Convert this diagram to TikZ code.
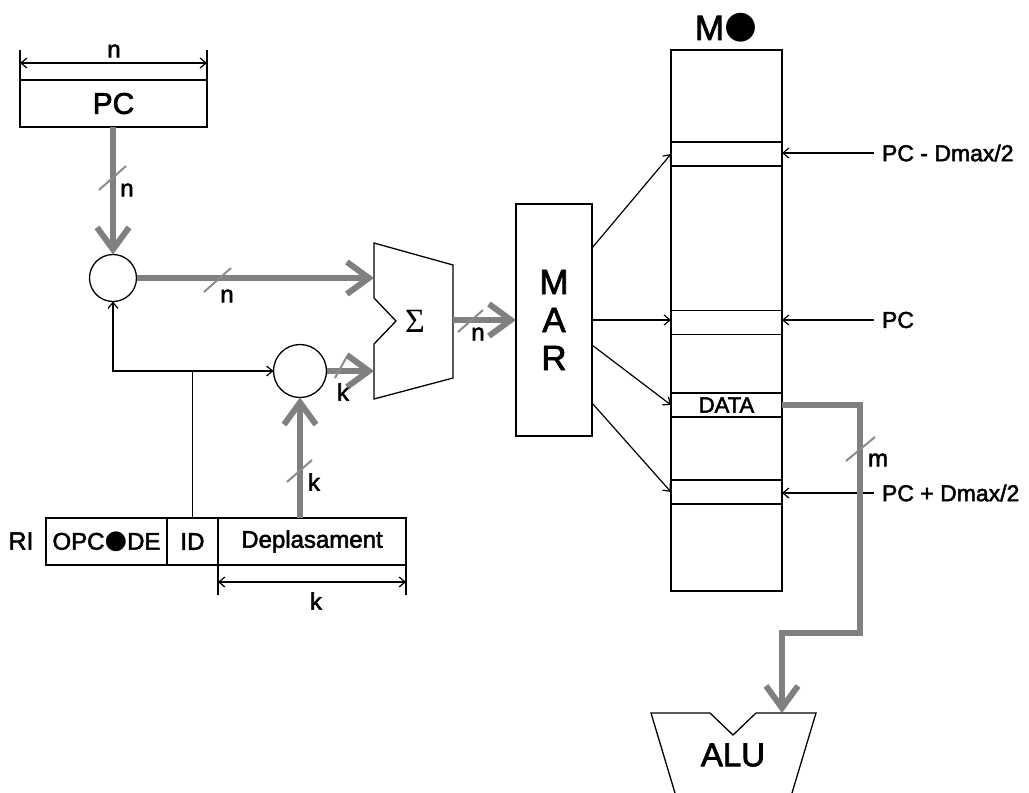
\documentclass[tikz,border=0pt]{standalone}
\usepackage{fontspec}
\setmainfont[RawFeature={embolden=2.2}]{Liberation Sans}
\newfontfamily\djvfont{DejaVu Sans}
\newfontfamily\serffont{Liberation Serif}
\usetikzlibrary{arrows.meta,calc}
\definecolor{busgray}{RGB}{128,128,128}
\definecolor{slashgray}{RGB}{140,140,140}
\newcommand\fs[1]{\fontsize{#1}{#1}\selectfont}
\newcommand\blackdot{\raisebox{0.06em}{\scalebox{1.08}{\djvfont\char"25CF}}}
\begin{document}
\begin{tikzpicture}[x=1pt,y=-1pt,
  every node/.style={inner sep=0pt, outer sep=0pt},
  reg/.style={draw, line width=1.5pt, minimum height=47pt},
  slot/.style={draw, line width=1.3pt, minimum width=111pt, minimum height=24pt},
  bus/.style={draw=busgray, line width=6pt, line join=miter},
  busarrow/.style={bus, -{Straight Barb[length=22pt,width=32pt]}},
  thinline/.style={draw, line width=1.2pt},
  thinarrow/.style={thinline, -{Straight Barb[length=6pt,width=10pt]}},
  dimarrow/.style={thinline, {Straight Barb[length=6pt,width=10pt]}-{Straight Barb[length=6pt,width=10pt]}},
  slash/.style={draw=slashgray, line width=2pt},
  lab/.style={font=\fs{24}},
  addc/.style={circle, draw, line width=1.3pt},
  rlab/.style={font=\fs{23}, anchor=west, inner xsep=8pt},
]
\path[use as bounding box] (0,0) rectangle (1029,793);

% PC register
\node[reg, minimum width=187pt, font=\fs{30}] (pc) at (113.5,103.5) {PC};
\draw[thinline] (pc.north west) -- ++(0,-30);
\draw[thinline] (pc.north east) -- ++(0,-30);
\draw[dimarrow] ([yshift=17pt]pc.north west) -- ([yshift=17pt]pc.north east);
\node[lab] (pcw) at (114,51) {n};

% adders
\node[addc, minimum size=47pt] (c1) at (113,278) {};
\node[addc, minimum size=53pt] (c2) at (300,371) {};

% Sigma adder
\draw[line width=1.3pt] (374,243) -- (453,265) -- (453,378) -- (374,399) -- (374,344) -- (396,321) -- (374,298) -- cycle;
\node[font=\serffont\fs{34}] (sigma) at (415,321) {Σ};
\coordinate (sgIn1) at (374,278);
\coordinate (sgIn2) at (374,371);
\coordinate (sgOut) at (453,320);

% MAR
\node[reg, minimum width=76pt, minimum height=232pt, align=center, font=\fontsize{35}{38}\selectfont] (mar) at (554,320) {M\\A\\R};

% Memory
\node[reg, minimum width=111pt, minimum height=541pt] (mo) at (726.5,320.5) {};
\node[font=\fs{35}] (molab) at (726,28) {M\blackdot};
\node[slot] (s1) at (726.5,154) {};
\node[slot] (s2) at (726.5,322.5) {};
\node[slot, font=\fs{22}] (s3) at (726.5,405) {DATA};
\node[slot] (s4) at (726.5,492) {};

\node[rlab] (l1) at (874,153) {PC - Dmax/2};
\node[rlab] (l2) at (874,320) {PC};
\node[rlab] (l4) at (874,493) {PC + Dmax/2};
\draw[thinarrow] (l1.west) -- (l1.west -| s1.east);
\draw[thinarrow] (l2.west) -- (l2.west -| s2.east);
\draw[thinarrow] (l4.west) -- (l4.west -| s4.east);

\draw[thinarrow] ([yshift=-44pt]mar.north east) -- (s1.west);
\draw[thinarrow] (mar.east) -- (mar.east -| s2.west);
\draw[thinarrow] ([yshift=-141pt]mar.north east) -- (s3.west);
\draw[thinarrow] ([yshift=-199pt]mar.north east) -- (s4.west);

% ALU
\draw[line width=1.3pt] (675,793) -- (651,713) -- (710,713) -- (733,735) -- (756,713) -- (816,713) -- (792,793);
\node[font=\fs{33}] (alu) at (733,755) {ALU};
\coordinate (aluin) at (782,713);
\draw[busarrow] (s3.east) -| (860,633) -| (aluin);

% RI register
\node[font=\fs{25}] (rilab) at (21,541) {RI};
\node[reg, minimum width=121pt, font=\fs{24}] (opc) at (106.5,541.5) {OPC\blackdot DE};
\node[reg, minimum width=51pt, font=\fs{24}] (id) at (192.5,541.5) {ID};
\node[reg, minimum width=188pt, font=\fs{24}] (dep) at (312,541.5) {Deplasament};
\draw[thinline] (dep.south west) -- ++(0,30);
\draw[thinline] (dep.south east) -- ++(0,30);
\draw[dimarrow] ([yshift=-17pt]dep.south west) -- ([yshift=-17pt]dep.south east);
\node[lab] (depw) at (316,601) {k};

% buses
\draw[busarrow] (pc.south -| c1) -- (c1.north);
\draw[busarrow] (c1.east) -- (c1.east -| sgIn1);
\draw[busarrow] (c2.east) -- (c2.east -| sgIn2);
\draw[busarrow] (dep.north -| c2) -- (c2.south);
\draw[busarrow] (sgOut) -- (sgOut -| mar.west);

% ID field lines
\coordinate (j) at (id.north |- c2.west);
\draw[thinline] (id.north) -- (j);
\draw[thinarrow] (j) -| (c1.south);
\draw[thinarrow] (j) -- (c2.west);

% bus width marks
\draw[slash] (99,190) -- (126,166);  \node[lab] (w1) at (127,190) {n};
\draw[slash] (204,292) -- (231,268); \node[lab] (w2) at (227,296) {n};
\draw[slash] (335,378) -- (346,358); \node[lab] (w3) at (343,392) {k};
\draw[slash] (287,482) -- (312,460); \node[lab] (w4) at (314,482) {k};
\draw[slash] (458,332) -- (483,310); \node[lab] (w5) at (478,334) {n};
\draw[slash] (846,461) -- (875,437); \node[lab] (w6) at (878,460) {m};
\end{tikzpicture}
\end{document}
